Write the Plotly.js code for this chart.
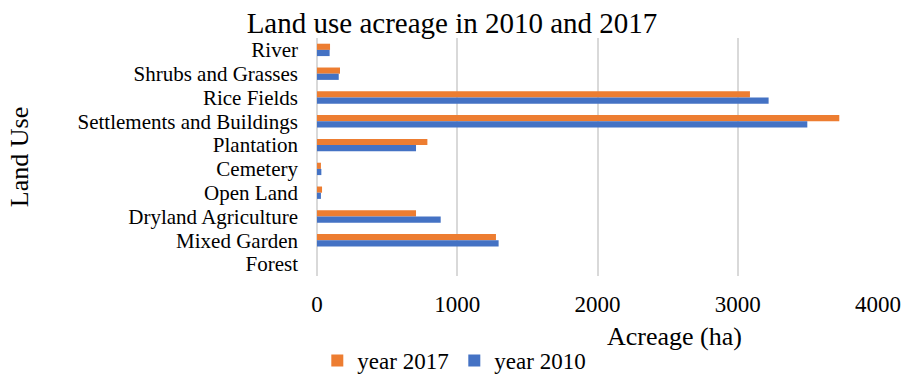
<!DOCTYPE html>
<html>
<head>
<meta charset="utf-8">
<script src="https://cdn.plot.ly/plotly-3.0.1.min.js"></script>
<style>html,body{margin:0;padding:0;background:#fff;}#chart{width:904px;height:374px;}</style>
</head>
<body>
<div id="chart"></div>
<script>
const categories = ["River","Shrubs and Grasses","Rice Fields","Settlements and Buildings","Plantation","Cemetery","Open Land","Dryland Agriculture","Mixed Garden","Forest"];
const year2017 = [93,164,3087,3724,787,28,36,706,1276,0];
const year2010 = [90,155,3220,3496,706,31,28,882,1295,0];
const seriesNames = ["year 2017","year 2010"];
const xTickVals = [0,1000,2000,3000,4000];
const xTitle = "Acreage (ha)";
const yTitle = "Land Use";
const chartTitle = "Land use acreage in 2010 and 2017";

const FONT = "Liberation Serif, Times New Roman, serif";

const traces = [
  {type:"bar", orientation:"h", name:seriesNames[0], y:categories, x:year2017,
   marker:{color:"#ED7D31"}, hoverinfo:"x+y"},
  {type:"bar", orientation:"h", name:seriesNames[1], y:categories, x:year2010,
   marker:{color:"#4472C4"}, hoverinfo:"x+y"}
];

const layout = {
  width:904, height:374,
  margin:{l:317, r:26, t:38, b:98, pad:0},
  paper_bgcolor:"#fff", plot_bgcolor:"#fff",
  font:{family:FONT, color:"#000"},
  barmode:"group", bargap:0.48, bargroupgap:0,
  title:{text:chartTitle, font:{family:FONT, size:29, color:"#000"},
         xref:"container", x:0.5, xanchor:"center", yref:"container", y:0.94, yanchor:"middle"},
  xaxis:{range:[0,4000], tickmode:"array", tickvals:xTickVals, ticktext:xTickVals.map(String),
         showgrid:true, gridcolor:"#D9D9D9", gridwidth:1.5,
         zeroline:true, zerolinecolor:"#D9D9D9", zerolinewidth:1.5, showline:false,
         ticks:"", ticklabelstandoff:12, tickfont:{family:FONT, size:23, color:"#000"}, fixedrange:true},
  yaxis:{type:"category", categoryorder:"array", categoryarray:categories, autorange:"reversed",
         tickmode:"array", tickvals:categories, ticktext:categories,
         showgrid:false, zeroline:false, showline:false, ticks:"", ticklabelstandoff:18,
         tickfont:{family:FONT, size:21, color:"#000"},
         title:{text:yTitle, font:{family:FONT, size:26, color:"#000"}, standoff:41}, fixedrange:true},
  showlegend:true,
  legend:{orientation:"h", xref:"container", yref:"container", x:0.351, xanchor:"left",
          y:0.036, yanchor:"middle", entrywidth:92, entrywidthmode:"pixels",
          font:{family:FONT, size:23, color:"#000"},
          bgcolor:"rgba(0,0,0,0)", itemclick:false, itemdoubleclick:false},
  annotations:[{text:xTitle, xref:"paper", yref:"paper", x:0.638, y:-0.255, xanchor:"center", yanchor:"middle",
                showarrow:false, font:{family:FONT, size:26, color:"#000"}}]
};

Plotly.newPlot("chart", traces, layout, {displayModeBar:false});
</script>
</body>
</html>
